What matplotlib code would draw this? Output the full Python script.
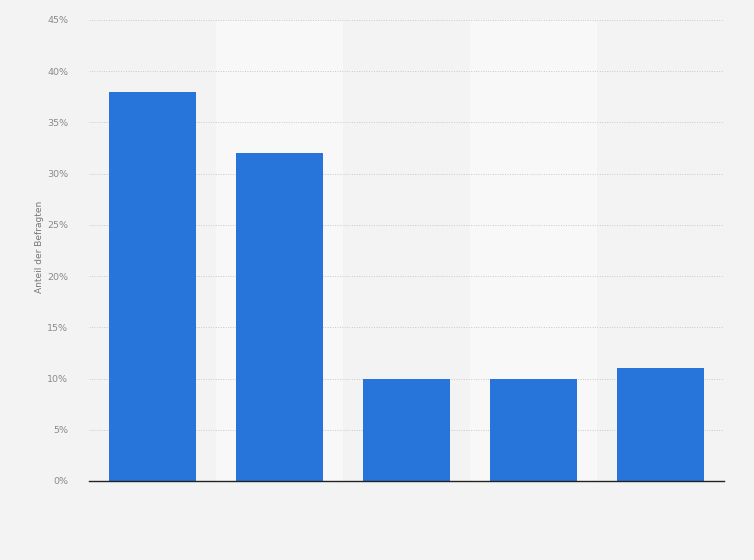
import matplotlib.pyplot as plt
import numpy as np

# Werte (Anteil der Befragten in %), keine Kategorienamen im Bild sichtbar
kategorien = ["", "", "", "", ""]
werte = [38, 32, 10, 10, 11]
y_ticks = [0, 5, 10, 15, 20, 25, 30, 35, 40, 45]

fig = plt.figure(figsize=(7.54, 5.6), dpi=100)
fig.patch.set_facecolor("#f3f3f3")
ax = fig.add_axes([89 / 754, 1 - 481 / 560, (724 - 89) / 754, (481 - 20) / 560])
ax.set_facecolor("#f3f3f3")

x = np.arange(len(werte))

# helle Streifen hinter jeder zweiten Kategorie
for i in x:
    if i % 2 == 1:
        ax.axvspan(i - 0.5, i + 0.5, color="#f8f8f8", zorder=0, lw=0)

ax.bar(x, werte, width=0.69, color="#2775db", zorder=3)

ax.set_xlim(-0.5, len(werte) - 0.5)
ax.set_ylim(0, 45)
ax.set_yticks(y_ticks)
ax.set_yticklabels([f"{t}%" for t in y_ticks], fontsize=6.8, color="#8a8a8a")
ax.set_xticks(x)
ax.set_xticklabels(kategorien)
ax.tick_params(length=0, pad=15)
ax.tick_params(axis="x", pad=4)

ax.grid(axis="y", color="#c8c8c8", linestyle=(0, (1, 1.5)), linewidth=0.7, zorder=1)
for s in ["top", "right", "left"]:
    ax.spines[s].set_visible(False)
ax.spines["bottom"].set_color("#222222")
ax.spines["bottom"].set_linewidth(1.0)
ax.spines["bottom"].set_zorder(4)

fig.text(40 / 754, 1 - 247 / 560, "Anteil der Befragten", rotation=90,
         fontsize=6.5, color="#777777", ha="center", va="center")

fig.savefig("out.png", dpi=100, facecolor=fig.get_facecolor())
